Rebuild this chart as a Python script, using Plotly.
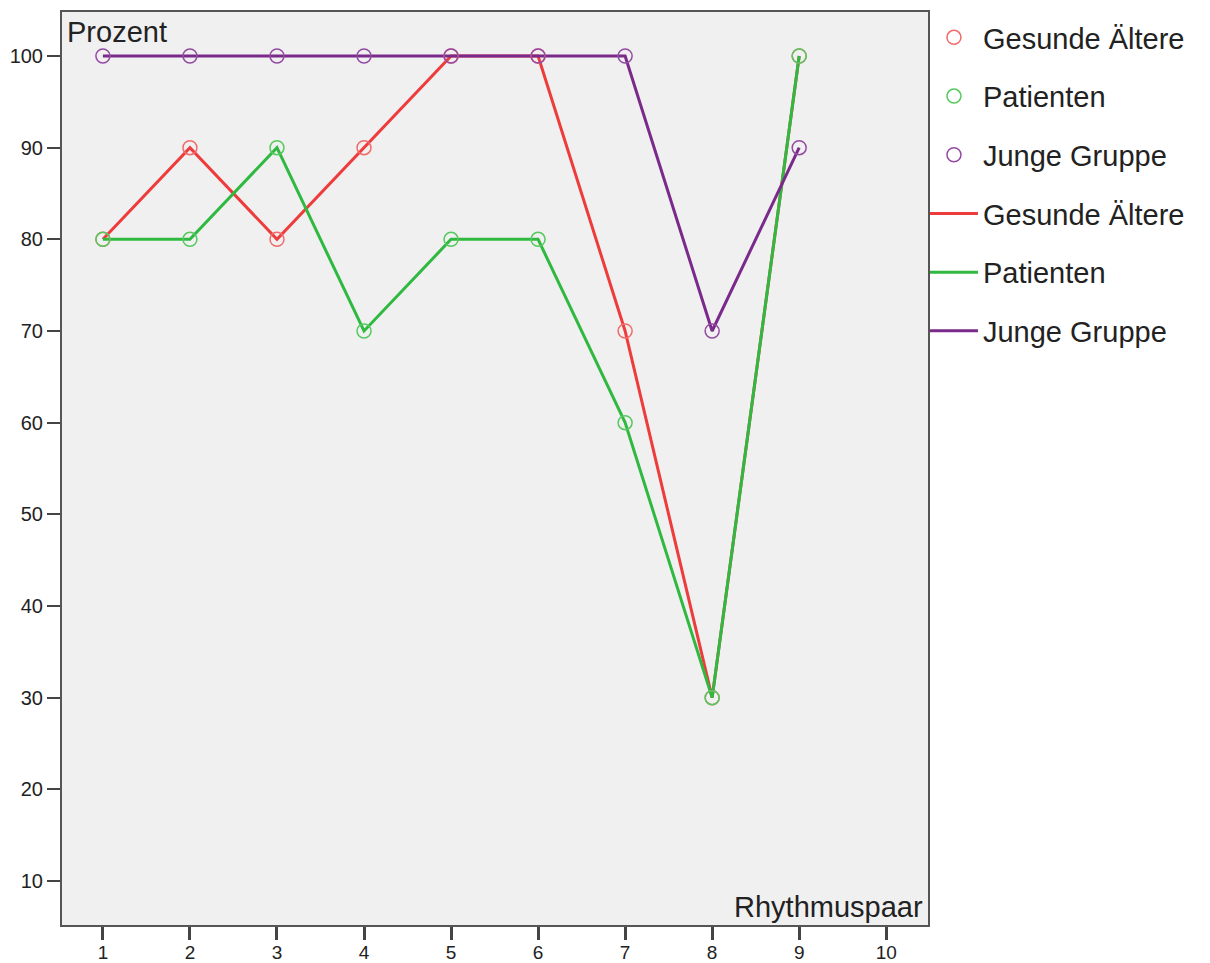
import plotly.graph_objects as go

# Rhythm pair index and percentage of correct answers per group
rhythmuspaar = [1, 2, 3, 4, 5, 6, 7, 8, 9]
gesunde_aeltere = [80, 90, 80, 90, 100, 100, 70, 30, 100]
patienten = [80, 80, 90, 70, 80, 80, 60, 30, 100]
junge_gruppe = [100, 100, 100, 100, 100, 100, 100, 70, 90]

x_ticks = [1, 2, 3, 4, 5, 6, 7, 8, 9, 10]
y_ticks = [10, 20, 30, 40, 50, 60, 70, 80, 90, 100]

groups = [
    ("Gesunde Ältere", gesunde_aeltere, "#ee3b3b", "#f26a6a"),
    ("Patienten", patienten, "#2fb940", "#55c95f"),
    ("Junge Gruppe", junge_gruppe, "#7a2a8a", "#944aa3"),
]

fig = go.Figure()

# connecting lines (listed second in the legend)
for i, (name, vals, lcol, mcol) in enumerate(groups):
    fig.add_trace(go.Scatter(
        x=rhythmuspaar, y=vals, mode="lines", name=name,
        line=dict(color=lcol, width=3),
        legendgroup="l" + str(i), legendrank=4 + i,
    ))

# open circle markers (listed first in the legend)
for i, (name, vals, lcol, mcol) in enumerate(groups):
    fig.add_trace(go.Scatter(
        x=rhythmuspaar, y=vals, mode="markers", name=name,
        marker=dict(symbol="circle-open", size=14, color=mcol,
                    line=dict(width=1.5, color=mcol)),
        legendgroup="m" + str(i), legendrank=1 + i,
    ))

fig.update_layout(
    width=1210, height=963,
    margin=dict(l=62, r=282, t=12, b=38),
    paper_bgcolor="white",
    plot_bgcolor="#f0f0f0",
    font=dict(family="Liberation Sans, Arial, sans-serif", color="#222"),
    showlegend=True,
    legend=dict(
        x=0.9965, y=1.0, xanchor="left", yanchor="top",
        font=dict(size=29, color="#222"),
        bgcolor="rgba(0,0,0,0)",
        tracegroupgap=18,
        traceorder="grouped",
        itemsizing="trace",
        itemwidth=48,
    ),
    xaxis=dict(
        range=[0.53, 10.48], tickvals=x_ticks, ticktext=[str(v) for v in x_ticks],
        showgrid=False, zeroline=False, automargin=False,
        ticks="outside", ticklen=13, tickwidth=2.5, tickcolor="#444",
        tickfont=dict(size=19, color="#222"), ticklabelstandoff=-4,
        showline=True, linecolor="#555", linewidth=2, mirror=True,
    ),
    yaxis=dict(
        range=[5.2, 104.8], tickvals=y_ticks, ticktext=[str(v) for v in y_ticks],
        showgrid=False, zeroline=False, automargin=False,
        ticks="outside", ticklen=13, tickwidth=2, tickcolor="#444",
        tickfont=dict(size=20, color="#222"),
        showline=True, linecolor="#555", linewidth=2, mirror=True,
    ),
    annotations=[
        dict(text="Prozent", xref="paper", yref="paper", x=0.004, y=1.0,
             xanchor="left", yanchor="top", showarrow=False, yshift=-2,
             font=dict(size=29, color="#222")),
        dict(text="Rhythmuspaar", xref="paper", yref="paper", x=0.997, y=0.0,
             xanchor="right", yanchor="bottom", showarrow=False,
             font=dict(size=29, color="#222")),
    ],
)

fig.write_html("out.html")
